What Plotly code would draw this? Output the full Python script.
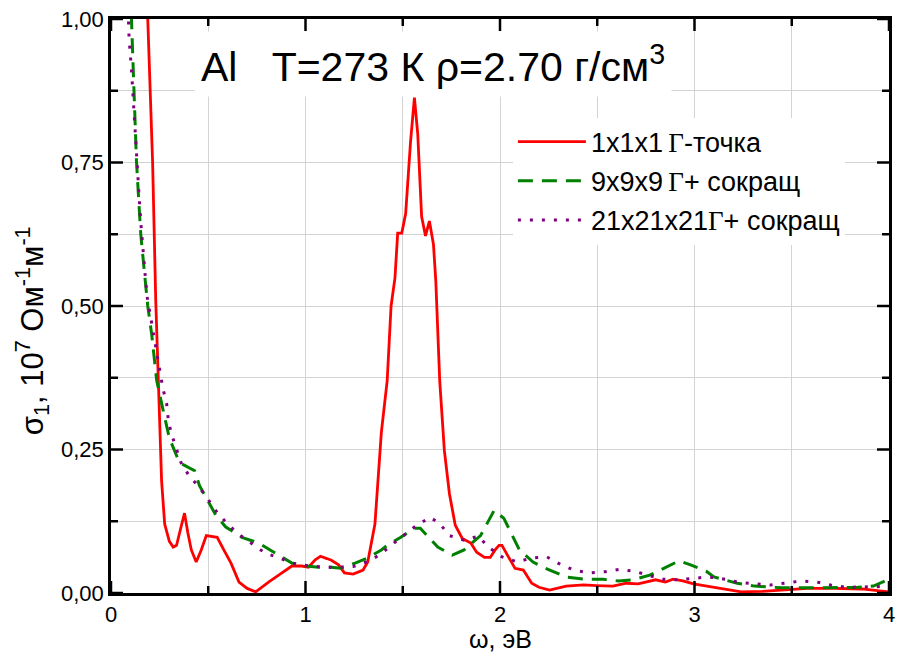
import plotly.graph_objects as go

# ---- data ----
red_x = [0.17, 0.189, 0.214, 0.23, 0.245, 0.26, 0.276, 0.30, 0.32, 0.337, 0.36, 0.378, 0.395, 0.413,
         0.438, 0.464, 0.49, 0.52, 0.546, 0.58, 0.617, 0.658, 0.70, 0.744, 0.78, 0.81, 0.862, 0.93,
         0.98, 1.015, 1.05, 1.077, 1.11, 1.133, 1.17, 1.20, 1.245, 1.296, 1.32, 1.357, 1.39, 1.42,
         1.44, 1.46, 1.474, 1.495, 1.515, 1.54, 1.56, 1.577, 1.597, 1.617, 1.637, 1.658, 1.67, 1.69,
         1.714, 1.74, 1.77, 1.806, 1.85, 1.88, 1.92, 1.95, 1.975, 1.995, 2.01, 2.046, 2.077, 2.12,
         2.163, 2.2, 2.255, 2.34, 2.43, 2.495, 2.58, 2.65, 2.71, 2.80, 2.85, 2.89, 2.94, 2.995, 3.09,
         3.24, 3.35, 3.45, 3.58, 3.72, 3.86, 4.0]
red_y = [1.19, 1.0, 0.75, 0.51, 0.335, 0.196, 0.12, 0.09, 0.08, 0.083, 0.115, 0.139, 0.105, 0.075,
         0.054, 0.075, 0.10, 0.099, 0.097, 0.075, 0.052, 0.019, 0.008, 0.002, 0.012, 0.019, 0.031, 0.047,
         0.047, 0.045, 0.058, 0.064, 0.06, 0.057, 0.049, 0.035, 0.033, 0.040, 0.054, 0.12, 0.28, 0.37,
         0.50, 0.549, 0.627, 0.627, 0.661, 0.786, 0.863, 0.80, 0.656, 0.622, 0.648, 0.607, 0.543, 0.37,
         0.248, 0.173, 0.118, 0.095, 0.087, 0.071, 0.062, 0.062, 0.075, 0.083, 0.083, 0.061, 0.043, 0.040,
         0.017, 0.010, 0.005, 0.012, 0.014, 0.013, 0.012, 0.017, 0.016, 0.023, 0.019, 0.024, 0.021, 0.016, 0.011,
         0.002, 0.003, 0.005, 0.008, 0.008, 0.007, 0.002]

green_x = [0.10, 0.105, 0.118, 0.131, 0.143, 0.153, 0.17, 0.189, 0.209, 0.235, 0.265, 0.30, 0.352, 0.43,
           0.455, 0.54, 0.59, 0.673, 0.76, 0.862, 0.93, 1.005, 1.066, 1.133, 1.18, 1.255, 1.32, 1.39,
           1.42, 1.49, 1.56, 1.59, 1.64, 1.68, 1.755, 1.815, 1.90, 1.97, 2.02, 2.05, 2.10, 2.17, 2.22,
           2.29, 2.34, 2.44, 2.53, 2.61, 2.68, 2.77, 2.85, 2.92, 2.98, 3.06, 3.10, 3.17, 3.22, 3.31,
           3.38, 3.45, 3.58, 3.72, 3.84, 3.92, 4.0]
green_y = [1.05, 1.0, 0.875, 0.752, 0.682, 0.625, 0.565, 0.5, 0.451, 0.37, 0.323, 0.27, 0.227, 0.213,
           0.187, 0.135, 0.115, 0.097, 0.087, 0.066, 0.052, 0.047, 0.045, 0.045, 0.043, 0.052, 0.061, 0.075,
           0.083, 0.097, 0.113, 0.113, 0.095, 0.080, 0.066, 0.075, 0.10, 0.144, 0.130, 0.11, 0.075, 0.054, 0.045,
           0.035, 0.028, 0.024, 0.024, 0.021, 0.023, 0.031, 0.045, 0.056, 0.049, 0.038, 0.028, 0.021, 0.017, 0.012,
           0.010, 0.009, 0.009, 0.009, 0.010, 0.012, 0.024]

purple_x = [0.08, 0.087, 0.093, 0.105, 0.114, 0.122, 0.131, 0.143, 0.153, 0.165, 0.179, 0.187, 0.20, 0.213,
            0.226, 0.241, 0.253, 0.267, 0.286, 0.295, 0.31, 0.336, 0.36, 0.40, 0.454, 0.495, 0.546, 0.60,
            0.658, 0.72, 0.795, 0.86, 0.93, 1.005, 1.10, 1.17, 1.245, 1.32, 1.38, 1.44, 1.50, 1.56, 1.64,
            1.69, 1.74, 1.815, 1.89, 1.94, 2.01, 2.09, 2.16, 2.24, 2.31, 2.38, 2.46, 2.54, 2.61, 2.69,
            2.77, 2.84, 2.92, 3.0, 3.07, 3.16, 3.22, 3.31, 3.39, 3.46, 3.55, 3.63, 3.70, 3.78, 3.86, 3.94, 4.0]
purple_y = [1.1, 1.0, 0.966, 0.913, 0.859, 0.807, 0.753, 0.70, 0.646, 0.593, 0.54, 0.514, 0.487, 0.461,
            0.435, 0.409, 0.382, 0.356, 0.33, 0.30, 0.278, 0.252, 0.227, 0.205, 0.184, 0.165, 0.14, 0.12,
            0.102, 0.087, 0.069, 0.062, 0.052, 0.048, 0.045, 0.045, 0.046, 0.055, 0.066, 0.083, 0.099, 0.115, 0.132,
            0.121, 0.10, 0.092, 0.099, 0.080, 0.063, 0.054, 0.061, 0.063, 0.050, 0.040, 0.035, 0.037, 0.041, 0.038,
            0.030, 0.024, 0.023, 0.026, 0.028, 0.024, 0.019, 0.016, 0.014, 0.017, 0.021, 0.019, 0.014, 0.010, 0.010, 0.011, 0.012]

# tick positions
x_major = [0, 1, 2, 3, 4]
x_minor = [0.5, 1.5, 2.5, 3.5]
y_major = [0, 0.25, 0.5, 0.75, 1.0]
y_minor = [0.125, 0.375, 0.625, 0.875]

GAMMA = "<span style='font-family:\"Liberation Serif\", \"DejaVu Serif\", serif'>\u0393</span>"
names = ["1x1x1\u2009" + GAMMA + "-точка",
         "9x9x9\u2009" + GAMMA + "+ сокращ",
         "21x21x21" + GAMMA + "+ сокращ"]

FONT = "Liberation Sans, Arial, sans-serif"
GRID = "#d3d3d3"

fig = go.Figure()
fig.add_trace(go.Scatter(x=red_x, y=red_y, mode="lines", name=names[0], legendgroup="a",
                         line=dict(color="#ff0000", width=2.8)))
fig.add_trace(go.Scatter(x=green_x, y=green_y, mode="lines", name=names[1], legendgroup="b",
                         line=dict(color="#008000", width=3, dash="15px,9px")))
fig.add_trace(go.Scatter(x=purple_x, y=purple_y, mode="lines", name=names[2], legendgroup="c",
                         line=dict(color="#800080", width=3, dash="3px,9px")))

axis_common = dict(showline=True, linecolor="black", linewidth=2.5, mirror=True,
                   ticks="", showgrid=True, gridcolor=GRID, gridwidth=1, zeroline=False,
                   tickfont=dict(family=FONT, size=22, color="black"))

fig.update_xaxes(range=[0, 4], tickvals=x_major, ticktext=[str(v) for v in x_major],
                 minor=dict(tickvals=x_minor, showgrid=True, gridcolor=GRID, gridwidth=1),
                 **axis_common)
fig.update_yaxes(range=[0, 1], tickvals=y_major, tickformat=".2f",
                 minor=dict(tickvals=y_minor, showgrid=True, gridcolor=GRID, gridwidth=1),
                 **axis_common)

# inside tick marks on all four sides (pixel-length marks anchored on the axis values)
tick_style = dict(type="line", line=dict(color="black", width=2.5), layer="above")
for vals, ln in ((x_major, 12), (x_minor, 7)):
    for v in vals:
        fig.add_shape(xref="x", x0=v, x1=v, yref="paper", ysizemode="pixel", yanchor=0, y0=0, y1=ln, **tick_style)
        fig.add_shape(xref="x", x0=v, x1=v, yref="paper", ysizemode="pixel", yanchor=1, y0=0, y1=-ln, **tick_style)
for vals, ln in ((y_major, 12), (y_minor, 7)):
    for v in vals:
        fig.add_shape(yref="y", y0=v, y1=v, xref="paper", xsizemode="pixel", xanchor=0, x0=0, x1=ln, **tick_style)
        fig.add_shape(yref="y", y0=v, y1=v, xref="paper", xsizemode="pixel", xanchor=1, x0=0, x1=-ln, **tick_style)

fig.add_annotation(xref="paper", yref="paper", x=0.5, y=(593 - 639) / 576, xanchor="center", yanchor="middle",
                   showarrow=False, text="ω, эВ",
                   font=dict(family=FONT, size=25, color="black"))

fig.add_annotation(xref="paper", yref="paper", x=-0.1008, y=0.457, xanchor="center", yanchor="middle",
                   textangle=-90, showarrow=False,
                   text="σ<sub>1</sub>, 10<sup>7</sup> Ом<sup>-1</sup>м<sup>-1</sup>",
                   font=dict(family=FONT, size=31, color="black"))

fig.add_annotation(xref="paper", yref="paper", x=0.4145, y=0.922, xanchor="center", yanchor="middle",
                   showarrow=False, bgcolor="white", borderpad=6,
                   text="Al\u00a0\u00a0\u00a0T=273 К\u00a0ρ=2.70 г/см<sup>3</sup>",
                   font=dict(family=FONT, size=41, color="black"))

fig.update_layout(
    width=902, height=664,
    margin=dict(l=111, r=7, t=17, b=71),
    paper_bgcolor="white", plot_bgcolor="white",
    separators=", ",
    showlegend=True,
    legend=dict(x=(516 - 111) / 784, y=(593 - 116) / 576, xanchor="left", yanchor="top",
                bgcolor="white", borderwidth=0, itemwidth=68, tracegroupgap=1,
                font=dict(family=FONT, size=27, color="black")),
)

fig.write_html("out.html")
